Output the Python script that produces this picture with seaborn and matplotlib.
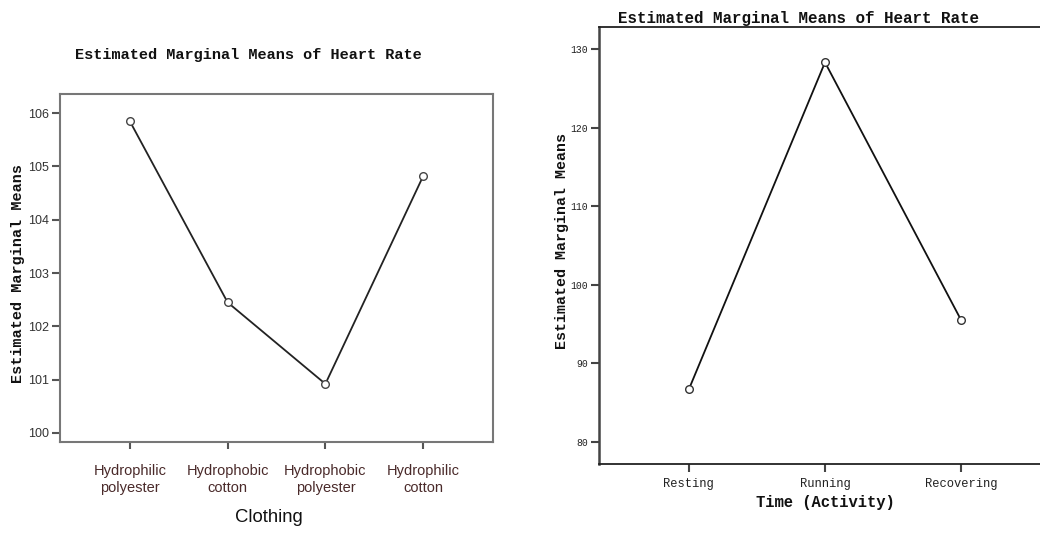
import matplotlib
matplotlib.use("Agg")
import matplotlib.pyplot as plt
import seaborn as sns
import pandas as pd

# ---- data ----
clothing = ["Hydrophilic\npolyester", "Hydrophobic\ncotton", "Hydrophobic\npolyester", "Hydrophilic\ncotton"]
clothing_means = [105.85, 102.45, 100.92, 104.82]
clothing_ticks = [100, 101, 102, 103, 104, 105, 106]

activity = ["Resting", "Running", "Recovering"]
activity_means = [86.7, 128.3, 95.5]
activity_ticks = [80, 90, 100, 110, 120, 130]

title = "Estimated Marginal Means of Heart Rate"
ylab = "Estimated Marginal Means"

sns.set_theme(style="white")
plt.rcParams["font.family"] = ["Liberation Sans", "DejaVu Sans"]

fig = plt.figure(figsize=(10.4, 5.34), dpi=100)
W, H = 1040, 534

def pos(l, t, r, b):
    return [l / W, 1 - b / H, (r - l) / W, (b - t) / H]

mono = ["Liberation Mono", "DejaVu Sans Mono"]

# ---- left panel ----
ax1 = fig.add_axes(pos(60, 94, 493, 442))
df1 = pd.DataFrame({"Clothing": clothing, "Mean": clothing_means})
sns.pointplot(data=df1, x="Clothing", y="Mean", ax=ax1, color="#222222",
              markers="o", markersize=5.5, linewidth=1.3, errorbar=None,
              markerfacecolor="white", markeredgecolor="#444444", markeredgewidth=1.0)
ax1.set_xlim(-0.714, 3.714)
ax1.set_ylim(99.83, 106.36)
ax1.set_yticks(clothing_ticks)
ax1.set_yticklabels([str(t) for t in clothing_ticks], fontsize=9, color="#333333")
for lbl in ax1.get_xticklabels():
    lbl.set_linespacing(1.25)
ax1.tick_params(axis="x", labelsize=10.5, labelcolor="#4a2a2a", length=5, width=1.5,
                color="#555555", direction="out", bottom=True, pad=11)
ax1.tick_params(axis="y", length=6, width=1.5, color="#555555", direction="out", left=True, pad=2)
for s in ax1.spines.values():
    s.set_color("#777777")
    s.set_linewidth(1.5)
ax1.set_xlabel("Clothing", fontsize=13.3, color="#111111")
ax1.xaxis.set_label_coords(0.483, -0.216)
ax1.xaxis.label.set_va("center")
ax1.set_ylabel(ylab, fontsize=10.9, fontweight="bold", family=mono, color="#111111")
ax1.yaxis.set_label_coords(-0.097, 0.483)
ax1.yaxis.label.set_va("center")
ax1.set_title(title, fontsize=11.0, fontweight="bold", family=mono, color="#111111",
              x=0.434, y=(442 - 55) / 348, va="center", pad=0)

# ---- right panel ----
ax2 = fig.add_axes(pos(599, 27, 1051, 464))
df2 = pd.DataFrame({"Time (Activity)": activity, "Mean": activity_means})
sns.pointplot(data=df2, x="Time (Activity)", y="Mean", ax=ax2, color="#111111",
              markers="o", markersize=5.5, linewidth=1.3, errorbar=None,
              markerfacecolor="white", markeredgecolor="#333333", markeredgewidth=1.0)
ax2.set_xlim(-0.66, 2.66)
ax2.set_ylim(77.2, 132.8)
ax2.set_yticks(activity_ticks)
ax2.set_yticklabels([str(t) for t in activity_ticks], fontsize=7, family=mono, color="#222222")
ax2.set_xticks(range(len(activity)))
ax2.set_xticklabels(activity, fontsize=8.7, family=mono, color="#222222")
ax2.tick_params(axis="x", length=6, width=1.5, color="#444444", direction="out", bottom=True, pad=4)
ax2.tick_params(axis="y", length=6, width=1.5, color="#444444", direction="out", left=True, pad=2)
for s in ax2.spines.values():
    s.set_color("#222222")
    s.set_linewidth(1.3)
ax2.spines["left"].set_color("#444444")
ax2.spines["left"].set_linewidth(1.8)
ax2.set_xlabel("Time (Activity)", fontsize=11.2, fontweight="bold", family=mono, color="#111111")
ax2.xaxis.set_label_coords(0.5, -0.089)
ax2.xaxis.label.set_va("center")
ax2.set_ylabel(ylab, fontsize=10.8, fontweight="bold", family=mono, color="#111111")
ax2.yaxis.set_label_coords(-0.082, 0.51)
ax2.yaxis.label.set_va("center")
ax2.set_title(title, fontsize=11.4, fontweight="bold", family=mono, color="#111111",
              x=(798 - 599) / 452, y=(464 - 19) / 437, va="center", pad=0)

fig.savefig("out.png", dpi=100)
